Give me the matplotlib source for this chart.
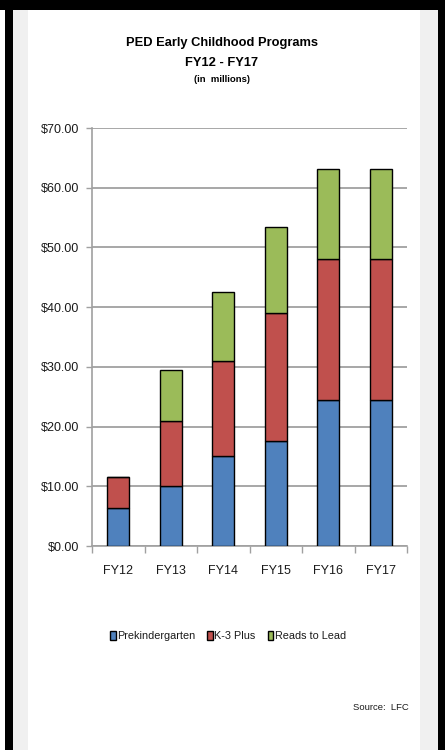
import matplotlib
matplotlib.use("Agg")
import matplotlib.pyplot as plt
from matplotlib.patches import Rectangle
from matplotlib.ticker import FuncFormatter, MultipleLocator
import numpy as np

years = ["FY12", "FY13", "FY14", "FY15", "FY16", "FY17"]
prek = [6.3, 10.0, 15.1, 17.6, 24.5, 24.5]
k3_plus = [5.3, 10.9, 15.9, 21.4, 23.6, 23.6]
reads_to_lead = [0.0, 8.6, 11.6, 14.4, 15.1, 15.1]

series = [
    ("Prekindergarten", prek, "#4f81bd"),
    ("K-3 Plus", k3_plus, "#c0504d"),
    ("Reads to Lead", reads_to_lead, "#9bbb59"),
]

W, H = 445, 750
FONT = "Liberation Sans"

fig = plt.figure(figsize=(W / 100, H / 100), dpi=100)
fig.patch.set_facecolor("white")


def px_rect(x0, y0, x1, y1, color):
    # rectangle given in pixel coords measured from the top-left corner
    fig.add_artist(Rectangle((x0 / W, 1 - y1 / H), (x1 - x0) / W, (y1 - y0) / H,
                             transform=fig.transFigure, facecolor=color,
                             edgecolor="none", zorder=0))


# page frame
px_rect(13, 0, 28, H, "#f0f0f0")
px_rect(420, 0, 438, H, "#f0f0f0")
px_rect(5, 0, 13, H, "black")
px_rect(438, 0, W, H, "black")
px_rect(0, 0, W, 10, "black")

ax = fig.add_axes([92 / W, 1 - 546 / H, (407 - 92) / W, (546 - 128) / H])
ax.set_facecolor("none")

x = np.arange(len(years))
bottom = np.zeros(len(years))
for name, vals, color in series:
    vals = np.array(vals)
    ax.bar(x, vals, width=0.41, bottom=bottom, color=color, edgecolor="black",
           linewidth=1.0, label=name, zorder=3)
    bottom += vals

ax.set_xlim(-0.5, len(years) - 0.5)
ax.set_ylim(0, 70)
ax.yaxis.set_major_locator(MultipleLocator(10))
ax.yaxis.set_major_formatter(FuncFormatter(lambda v, p: f"${v:.2f}"))
ax.set_xticks(x)
ax.set_xticklabels(years)
ax.set_xticks(np.arange(len(years) + 1) - 0.5, minor=True)
ax.tick_params(axis="x", which="major", length=0, pad=14)
ax.tick_params(axis="x", which="minor", length=5, color="#a0a0a0", width=1)
ax.tick_params(axis="y", length=4, color="#a0a0a0", width=1, pad=5)
for lbl in ax.get_xticklabels() + ax.get_yticklabels():
    lbl.set_family(FONT)
    lbl.set_fontsize(9)
    lbl.set_color("#1a1a1a")

ax.grid(axis="y", color="#a0a0a0", linewidth=1.3, zorder=0)
for side in ["top", "right"]:
    ax.spines[side].set_visible(False)
for side in ["left", "bottom"]:
    ax.spines[side].set_color("#a0a0a0")
    ax.spines[side].set_linewidth(1.2)

fig.text(222 / W, 1 - 43 / H, "PED Early Childhood Programs", ha="center", va="center",
         fontsize=9.3, fontweight="bold", family=FONT)
fig.text(222 / W, 1 - 63 / H, "FY12 - FY17", ha="center", va="center",
         fontsize=9.3, fontweight="bold", family=FONT)
fig.text(222 / W, 1 - 80 / H, "(in  millions)", ha="center", va="center",
         fontsize=6.8, fontweight="bold", family=FONT)

leg = fig.legend(loc="center", bbox_to_anchor=(228 / W, 1 - 636 / H), ncol=3,
                 frameon=False, prop={"family": FONT, "size": 7.8},
                 handlelength=0.5, handleheight=0.9, handletextpad=0.15,
                 columnspacing=1.1)
for t in leg.get_texts():
    t.set_color("#1a1a1a")

fig.text(409 / W, 1 - 708 / H, "Source:  LFC", ha="right", va="center",
         fontsize=6.8, family=FONT, color="#1a1a1a")

fig.savefig("out.png", dpi=100)
